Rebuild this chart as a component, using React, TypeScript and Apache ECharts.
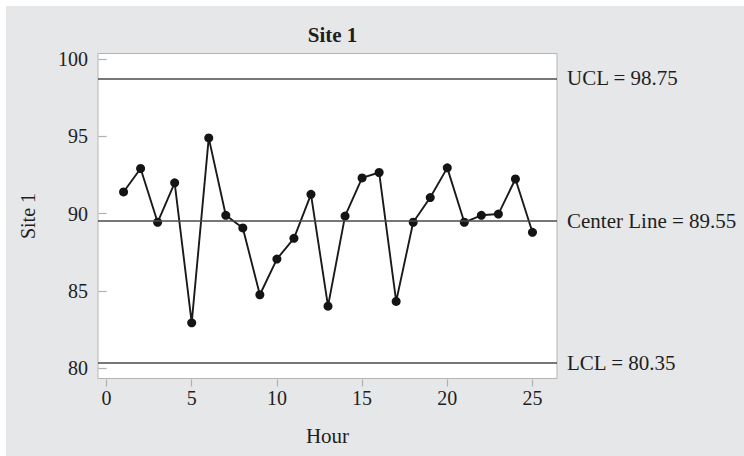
import React, { useEffect, useRef } from "react";
import * as echarts from "echarts";

const hours = [1, 2, 3, 4, 5, 6, 7, 8, 9, 10, 11, 12, 13, 14, 15, 16, 17, 18, 19, 20, 21, 22, 23, 24, 25];
const site1 = [91.4, 92.92, 89.44, 91.99, 82.93, 94.9, 89.89, 89.07, 84.75, 87.06, 88.4, 91.25, 84.01, 89.84, 92.31, 92.66, 84.32, 89.44, 91.04, 92.96, 89.44, 89.89, 89.97, 92.24, 88.79];
const xTicks = [0, 5, 10, 15, 20, 25];
const yTicks = [80, 85, 90, 95, 100];
const limitNames = ["UCL", "Center Line", "LCL"];
const limitValues = [98.75, 89.55, 80.35];

const FONT = "'Liberation Serif', 'Times New Roman', serif";

export default function App() {
  const ref = useRef<HTMLDivElement>(null);
  useEffect(() => {
    if (!ref.current) return;
    const chart = echarts.init(ref.current, undefined, { renderer: "svg" });
    chart.setOption({
      animation: false,
      backgroundColor: "#ffffff",
      textStyle: { fontFamily: FONT },
      graphic: [
        {
          type: "rect",
          z: -10,
          silent: true,
          shape: { x: 6, y: 6, width: 738, height: 450 },
          style: { fill: "#e6e7e9" },
        },
      ],
      title: {
        text: "Site 1",
        left: 327.5,
        textAlign: "center",
        top: 19,
        textStyle: { fontFamily: FONT, fontSize: 21, fontWeight: "bold", color: "#1e1e1e" },
      },
      grid: {
        left: 98,
        top: 53.5,
        right: 187,
        bottom: 77.5,
        show: true,
        backgroundColor: "#ffffff",
        borderColor: "#b5b5b5",
        borderWidth: 1,
      },
      xAxis: {
        type: "value",
        min: -0.5,
        max: 26.44,
        offset: 1,
        name: "Hour",
        nameLocation: "middle",
        nameGap: 46,
        nameTextStyle: { fontFamily: FONT, fontSize: 21, color: "#1e1e1e" },
        axisLine: { show: false },
        splitLine: { show: false },
        axisTick: { show: true, customValues: xTicks, length: 7, lineStyle: { color: "#b0b0b0", width: 1.2 } },
        axisLabel: { customValues: xTicks, fontFamily: FONT, fontSize: 20, color: "#1e1e1e", margin: 8 },
      },
      yAxis: {
        type: "value",
        min: 79.33,
        max: 100.36,
        offset: 2,
        name: "Site 1",
        nameLocation: "middle",
        nameGap: 58,
        nameRotate: 90,
        nameTextStyle: { fontFamily: FONT, fontSize: 20, color: "#1e1e1e" },
        axisLine: { show: false },
        splitLine: { show: false },
        axisTick: { show: true, customValues: yTicks, length: 8, lineStyle: { color: "#b0b0b0", width: 1.2 } },
        axisLabel: { customValues: yTicks, fontFamily: FONT, fontSize: 20, color: "#1e1e1e", margin: 8 },
      },
      series: [
        {
          type: "line",
          data: hours.map((h, i) => [h, site1[i]]),
          symbol: "circle",
          symbolSize: 9,
          itemStyle: { color: "#141414" },
          lineStyle: { color: "#1a1a1a", width: 1.9 },
          markLine: {
            silent: true,
            symbol: "none",
            lineStyle: { color: "#4a4a4a", width: 1.5, type: "solid" },
            label: {
              show: true,
              position: "end",
              distance: 10,
              fontFamily: FONT,
              fontSize: 21,
              color: "#1e1e1e",
              formatter: (p: any) => `${p.name} = ${p.value}`,
            },
            data: limitNames.map((n, i) => ({ name: n, yAxis: limitValues[i] })),
          },
        },
      ],
    });
    return () => chart.dispose();
  }, []);
  return <div ref={ref} style={{ position: "fixed", left: 0, top: 0, width: 744, height: 456 }} />;
}
